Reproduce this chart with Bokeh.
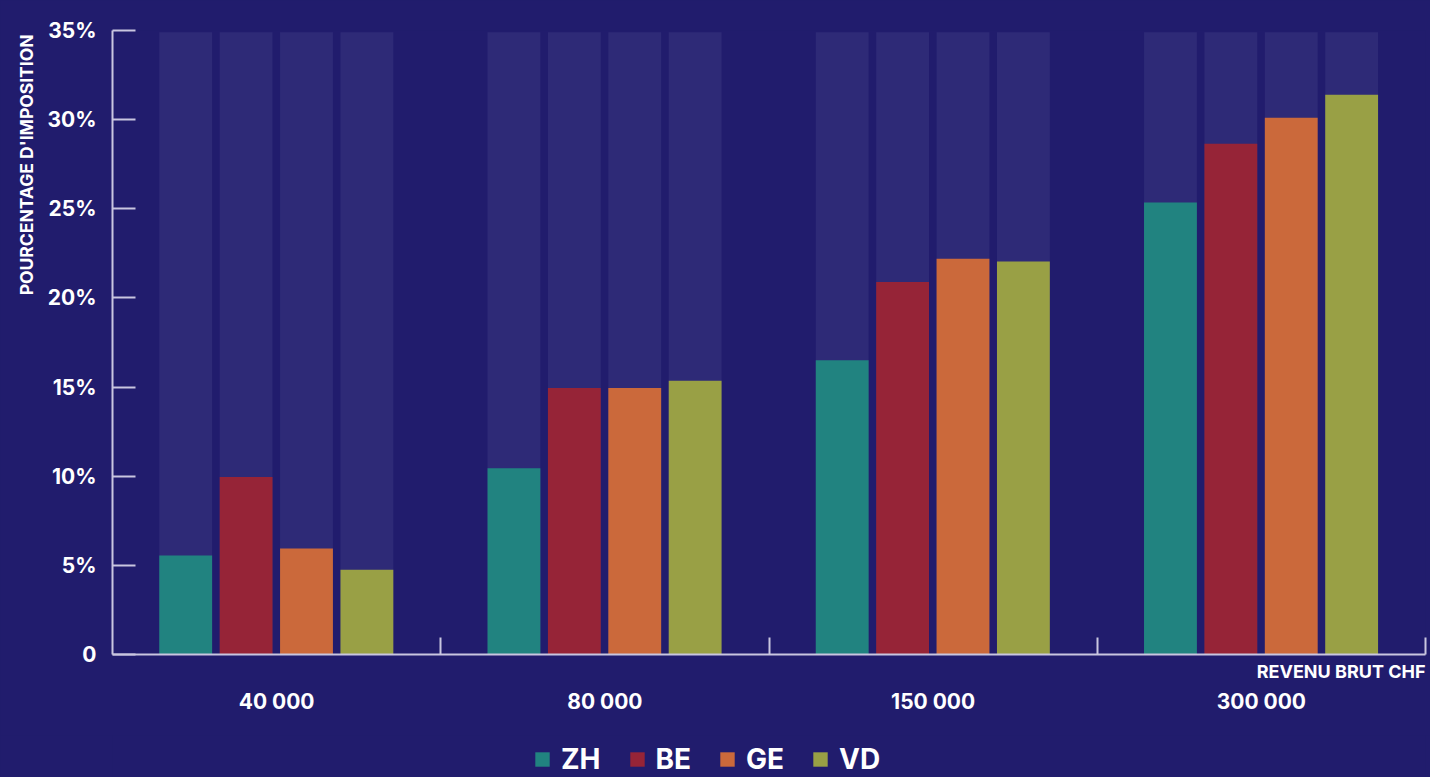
from bokeh.plotting import figure
from bokeh.layouts import column
from bokeh.models import (ColumnDataSource, FixedTicker, Legend, LegendItem, Range1d,
                          LinearAxis, Title)
from bokeh.transform import dodge
from bokeh.embed import file_html
from bokeh.resources import INLINE

# ---- data ----
incomes = ["40 000", "80 000", "150 000", "300 000"]
cantons = ["ZH", "BE", "GE", "VD"]
zh = [5.55, 10.45, 16.5, 25.35]
be = [9.95, 14.95, 20.9, 28.65]
ge = [5.95, 14.95, 22.2, 30.1]
vd = [4.75, 15.35, 22.05, 31.4]
scale_max = [34.9, 34.9, 34.9, 34.9]
y_ticks = [0, 5, 10, 15, 20, 25, 30, 35]
y_tick_labels = ["0", "5%", "10%", "15%", "20%", "25%", "30%", "35%"]
x_title = "REVENU BRUT CHF"
y_title = "POURCENTAGE D'IMPOSITION"

BG = "#211c6d"
BAR_BG = "#2e2a77"
AXIS = "#c9c6e0"
colors = ["#218380", "#962437", "#cb693b", "#99a045"]
FONT = "Inter"

centers = [i + 0.5 for i in range(len(incomes))]
bounds = [i + 1 for i in range(len(incomes))]
src = ColumnDataSource(dict(x=centers, ZH=zh, BE=be, GE=ge, VD=vd, top=scale_max))

p = figure(width=1430, height=735, output_backend="svg", toolbar_location=None,
           x_range=Range1d(0, len(incomes)), y_range=Range1d(0, 35),
           min_border_left=112, min_border_right=5, min_border_top=30, min_border_bottom=81,
           styles={"background-color": BG})
p.background_fill_color = BG
p.border_fill_color = BG
p.outline_line_color = None
p.xgrid.visible = False
p.ygrid.visible = False

offsets = [-0.277, -0.093, 0.091, 0.275]
width = 0.161
renderers = []
for c, off, col in zip(cantons, offsets, colors):
    p.vbar(x=dodge("x", off, range=p.x_range), top="top", width=width, source=src,
           fill_color=BAR_BG, line_color=None)
    r = p.vbar(x=dodge("x", off, range=p.x_range), top=c, width=width, source=src,
               fill_color=col, line_color=None)
    renderers.append(r)

# x axis: line + boundary ticks only
xa = p.xaxis[0]
xa.ticker = FixedTicker(ticks=[], minor_ticks=bounds)
xa.major_tick_line_color = None
xa.major_tick_in = 0
xa.major_tick_out = 0
xa.major_label_text_font_size = "0px"
xa.major_label_standoff = 0
xa.minor_tick_in = 17
xa.minor_tick_out = 0
xa.minor_tick_line_color = AXIS
xa.minor_tick_line_width = 2
xa.axis_line_color = AXIS
xa.axis_line_width = 2

# x title (right aligned, just under the axis line)
p.add_layout(Title(text=x_title, align="right", text_color="white", text_font=FONT,
                   text_font_style="bold", text_font_size="18px", standoff=8, offset=0), "below")

# group labels
xb = LinearAxis(ticker=FixedTicker(ticks=centers),
                major_label_overrides={c: lab for c, lab in zip(centers, incomes)})
xb.axis_line_color = None
xb.major_tick_line_color = None
xb.minor_tick_line_color = None
xb.major_label_standoff = -3
xb.major_label_text_color = "white"
xb.major_label_text_font = FONT
xb.major_label_text_font_style = "bold"
xb.major_label_text_font_size = "21px"
p.add_layout(xb, "below")

# y axis
ya = p.yaxis[0]
ya.ticker = FixedTicker(ticks=y_ticks)
ya.major_label_overrides = {t: lab for t, lab in zip(y_ticks, y_tick_labels)}
ya.major_tick_in = 23
ya.major_tick_out = 0
ya.major_tick_line_color = AXIS
ya.major_tick_line_width = 2
ya.minor_tick_line_color = None
ya.axis_line_color = AXIS
ya.axis_line_width = 2
ya.major_label_standoff = 16
ya.major_label_text_color = "white"
ya.major_label_text_font = FONT
ya.major_label_text_font_style = "bold"
ya.major_label_text_font_size = "21px"

p.add_layout(Title(text=y_title, align="right", text_color="white", text_font=FONT,
                   text_font_style="bold", text_font_size="17.5px", standoff=16, offset=4), "left")

# legend strip
lg = figure(width=1430, height=42, output_backend="svg", toolbar_location=None,
            x_axis_location=None, y_axis_location=None,
            x_range=Range1d(0, 1), y_range=Range1d(0, 1),
            min_border=0, min_border_left=0, min_border_right=0,
            min_border_top=0, min_border_bottom=0,
            styles={"background-color": BG})
lg.background_fill_color = BG
lg.border_fill_color = BG
lg.outline_line_color = None
lg.xgrid.visible = False
lg.ygrid.visible = False
# off-range dummy glyphs that only provide the legend swatches
swatches = [lg.vbar(x=[-5], top=[-5], width=0.1, fill_color=col, line_color=None)
            for col in colors]
legend = Legend(items=[LegendItem(label=c, renderers=[r]) for c, r in zip(cantons, swatches)],
                orientation="horizontal", location=(421, 1), padding=0, margin=0,
                spacing=27, glyph_width=18, glyph_height=18, label_standoff=10,
                label_text_color="white", label_text_font=FONT, label_text_font_style="bold",
                label_text_font_size="28px", background_fill_alpha=0, border_line_alpha=0)
lg.add_layout(legend, "center")

layout = column(p, lg, spacing=0, styles={"background-color": BG})
open("out.html", "w").write(file_html(layout, INLINE))
